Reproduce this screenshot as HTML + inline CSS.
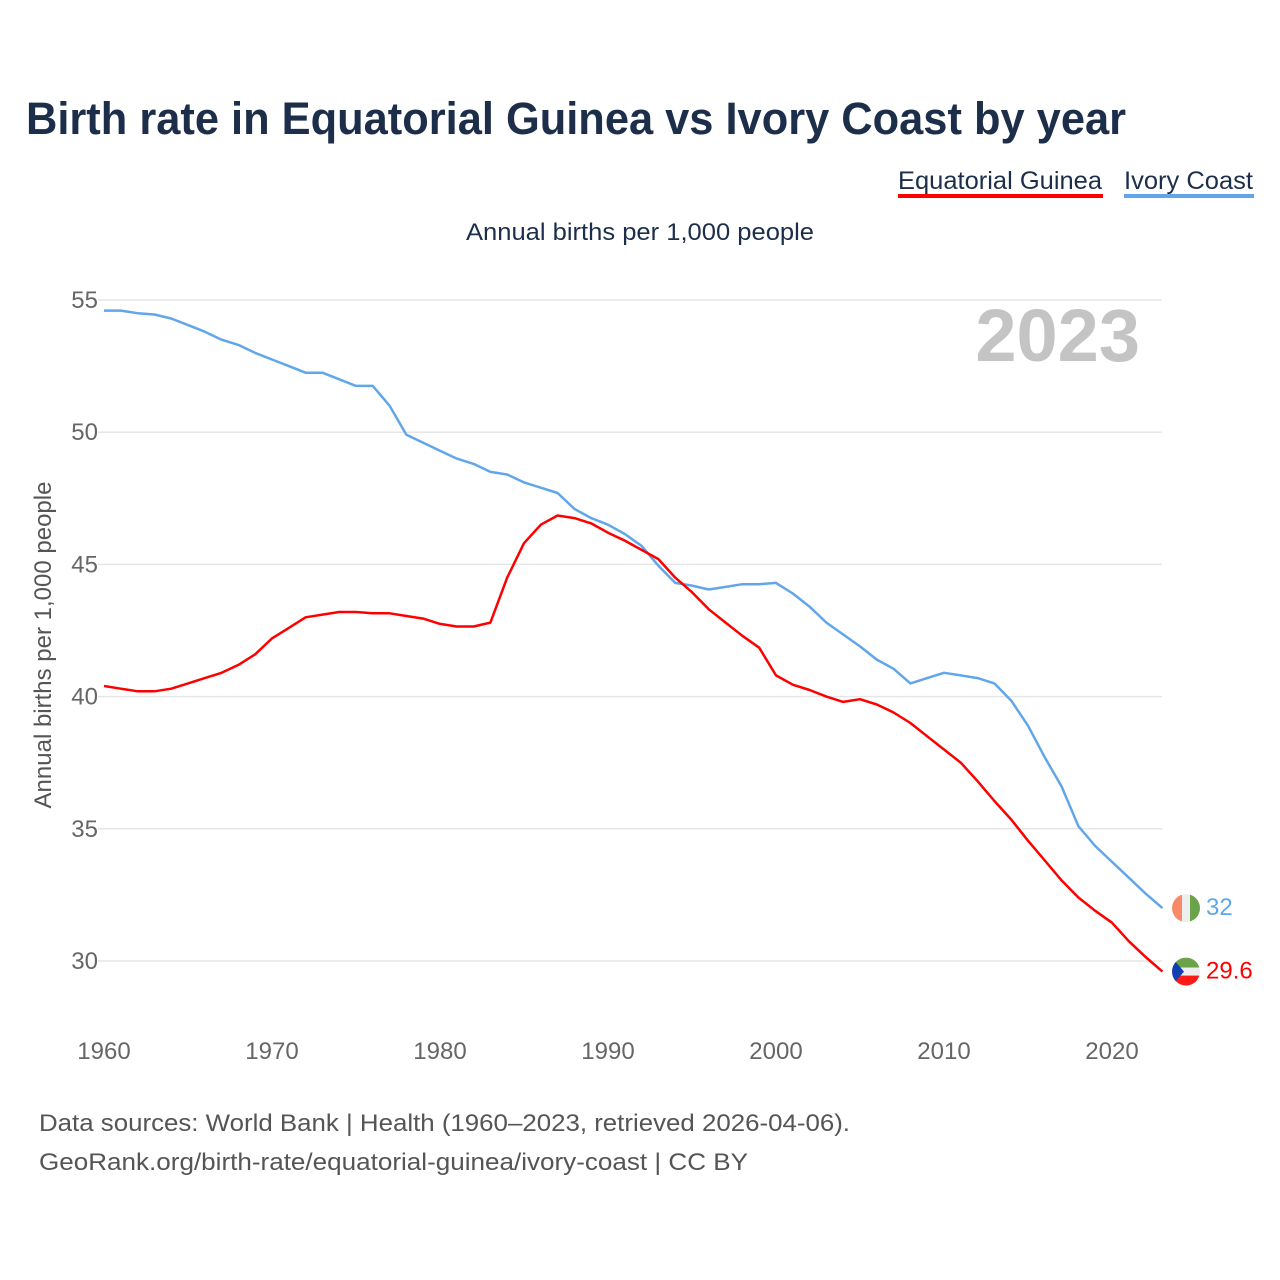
<!DOCTYPE html>
<html><head><meta charset="utf-8"><style>
body{margin:0;background:#fff;width:1280px;height:1280px;overflow:hidden;font-family:"Liberation Sans",sans-serif;}
svg{display:block}
</style></head><body>
<svg id="chart" width="1280" height="1280" xmlns="http://www.w3.org/2000/svg">
<text x="26" y="134" font-size="45" font-weight="bold" fill="#1c2e4a" textLength="1100" lengthAdjust="spacingAndGlyphs">Birth rate in Equatorial Guinea vs Ivory Coast by year</text>
<g>
<text x="898" y="189" font-size="25" fill="#1c2e4a" textLength="204" lengthAdjust="spacingAndGlyphs">Equatorial Guinea</text>
<rect x="898" y="194" width="205" height="4" fill="#ff0000"/>
<text x="1124" y="189" font-size="25" fill="#1c2e4a" textLength="129" lengthAdjust="spacingAndGlyphs">Ivory Coast</text>
<rect x="1124" y="194" width="130" height="4" fill="#62a6ea"/>
</g>
<text x="466" y="240" font-size="24" fill="#1c2e4a" textLength="348" lengthAdjust="spacingAndGlyphs">Annual births per 1,000 people</text>
<text x="1140" y="361" font-size="74" font-weight="bold" fill="#c4c4c4" text-anchor="end">2023</text>
<text transform="translate(51,645) rotate(-90)" font-size="24" fill="#555" text-anchor="middle">Annual births per 1,000 people</text>
<g id="grid"></g><g id="ylabels"></g><g id="xlabels"></g><g id="lines"></g><g id="ends"></g>
<text x="39" y="1131" font-size="24" fill="#555" textLength="811" lengthAdjust="spacingAndGlyphs">Data sources: World Bank | Health (1960–2023, retrieved 2026-04-06).</text>
<text x="39" y="1170" font-size="24" fill="#555" textLength="709" lengthAdjust="spacingAndGlyphs">GeoRank.org/birth-rate/equatorial-guinea/ivory-coast | CC BY</text>
</svg>
<script>
const years = [];
for (let y = 1960; y <= 2023; y++) years.push(y);
const ivoryCoast = [54.6,54.6,54.5,54.45,54.3,54.05,53.8,53.5,53.3,53.0,52.75,52.5,52.25,52.25,52.0,51.75,51.75,51.0,49.9,49.6,49.3,49.0,48.8,48.5,48.4,48.1,47.9,47.7,47.1,46.75,46.5,46.15,45.7,44.95,44.3,44.2,44.05,44.15,44.25,44.25,44.3,43.9,43.4,42.8,42.35,41.9,41.4,41.05,40.5,40.7,40.9,40.8,40.7,40.5,39.85,38.9,37.7,36.6,35.1,34.35,33.75,33.15,32.55,32.0];
const eqGuinea = [40.4,40.3,40.2,40.2,40.3,40.5,40.7,40.9,41.2,41.6,42.2,42.6,43.0,43.1,43.2,43.2,43.15,43.15,43.05,42.95,42.75,42.65,42.65,42.8,44.5,45.8,46.5,46.85,46.75,46.55,46.2,45.9,45.55,45.2,44.5,43.95,43.3,42.8,42.3,41.85,40.8,40.45,40.25,40.0,39.8,39.9,39.7,39.4,39.0,38.5,38.0,37.5,36.8,36.05,35.35,34.55,33.8,33.05,32.4,31.9,31.45,30.75,30.15,29.6];
const yTicks = [30,35,40,45,50,55];
const xTicks = [1960,1970,1980,1990,2000,2010,2020];
const endLabels = ["29.6","32"];

const NS = "http://www.w3.org/2000/svg";
const x = yr => 104 + (yr - 1960) * 16.8;
const y = v => 300 + (55 - v) * 26.44;
function mk(tag, attrs, parent, txt){const e=document.createElementNS(NS,tag);for(const k in attrs)e.setAttribute(k,attrs[k]);if(txt!==undefined)e.textContent=txt;parent.appendChild(e);return e;}
const grid=document.getElementById('grid'), yl=document.getElementById('ylabels'), xl=document.getElementById('xlabels'), ln=document.getElementById('lines'), ends=document.getElementById('ends');
yTicks.forEach(t=>{
  const g=mk('line',{x1:98,x2:1162,y1:y(t),y2:y(t),stroke:'#e6e6e6','stroke-width':1.5},grid);
  
  
  const l=mk('text',{x:98,y:y(t)+8,'font-size':24,fill:'#666','text-anchor':'end'},yl,String(t));
  
  
});
xTicks.forEach(t=>{
  const l=mk('text',{x:x(t),y:1059,'font-size':24,fill:'#666','text-anchor':'middle'},xl,String(t));
  
  
});
function line(data,color,name){
  const d=data.map((v,i)=>(i?'L':'M')+x(years[i]).toFixed(1)+','+y(v).toFixed(1)).join('');
  const p=mk('path',{d:d,fill:'none',stroke:color,'stroke-width':2.5,'stroke-linejoin':'round'},ln);
  
  
}
line(ivoryCoast,'#62a6ea','line-ivory-coast');
line(eqGuinea,'#ff0000','line-equatorial-guinea');
const last=years.length-1, fx=1186;
const ic=mk('g',{},ends);


const icy=y(ivoryCoast[last]);
const cp1=mk('clipPath',{id:'c1'},ic); mk('circle',{cx:fx,cy:icy,r:14},cp1);
const icg=mk('g',{'clip-path':'url(#c1)'},ic);
mk('rect',{x:fx-14,y:icy-14,width:10,height:28,fill:'#f88a6a'},icg);
mk('rect',{x:fx-4,y:icy-14,width:8,height:28,fill:'#eee'},icg);
mk('rect',{x:fx+4,y:icy-14,width:10,height:28,fill:'#6aa34a'},icg);
const t1=mk('text',{x:1206,y:icy+7,'font-size':24,fill:'#62a6ea'},ends,endLabels[1]);


const eg=mk('g',{},ends);


const egy=y(eqGuinea[last]);
const cp=mk('clipPath',{id:'c2'},eg); mk('circle',{cx:fx,cy:egy,r:14},cp);
const egg=mk('g',{'clip-path':'url(#c2)'},eg);
mk('rect',{x:fx-14,y:egy-14,width:28,height:10,fill:'#6aa34a'},egg);
mk('rect',{x:fx-14,y:egy-4,width:28,height:8,fill:'#eee'},egg);
mk('rect',{x:fx-14,y:egy+4,width:28,height:10,fill:'#ff1a1a'},egg);
mk('polygon',{points:`${fx-14},${egy-14} ${fx-2},${egy} ${fx-14},${egy+14}`,fill:'#1040b0'},egg);
const t2=mk('text',{x:1206,y:egy+7,'font-size':24,fill:'#ff0000'},ends,endLabels[0]);


</script>
</body></html>
